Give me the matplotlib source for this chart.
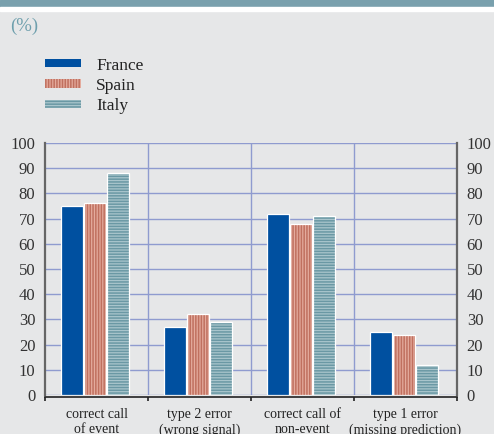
import matplotlib
matplotlib.use("Agg")
import matplotlib.pyplot as plt
from matplotlib.patches import Rectangle, Patch

# data
categories = ["correct call\nof event", "type 2 error\n(wrong signal)",
              "correct call of\nnon-event", "type 1 error\n(missing prediction)"]
countries = ["France", "Spain", "Italy"]
france = [75, 27, 72, 25]
spain = [76, 32, 68, 24]
italy = [88, 29, 71, 12]

plt.rcParams['font.family'] = ['Liberation Serif', 'DejaVu Serif']
plt.rcParams['hatch.linewidth'] = 1.1

bg = '#e6e7e8'
grid_col = '#8f9bcf'
W, H = 494, 434

fig = plt.figure(figsize=(W / 100, H / 100), dpi=100, facecolor=bg)
# header band
fig.patches.append(Rectangle((0, 1 - 7.5 / H), 1, 7.5 / H, transform=fig.transFigure,
                             color='#79a0ad', zorder=0))
fig.patches.append(Rectangle((0, 1 - 10.5 / H), 1, 3 / H, transform=fig.transFigure,
                             color='white', zorder=0))
fig.text(10 / W, 1 - 26 / H, "(%)", color='#6e9fad', fontsize=13.5, va='center', ha='left')

ax = fig.add_axes([45 / W, 1 - 395 / H, (457 - 45) / W, (395 - 143) / H], facecolor=bg)

# style per series: (values, face, hatch, stripe colour)
series = [
    (france, '#0050a0', None, '#0050a0'),
    (spain, '#e4ab9d', '||||||', '#c0705f'),
    (italy, '#a9c5cc', '------', '#6a98a4'),
]
offsets = [-0.235, -0.015, 0.205]
width = 0.215
x = list(range(len(categories)))

handles = []
for (vals, face, hatch, stripe), off, name in zip(series, offsets, countries):
    xs = [i + off for i in x]
    ax.bar(xs, vals, width=width, color=face, hatch=hatch, edgecolor=stripe,
           linewidth=0, zorder=3)
    ax.bar(xs, vals, width=width, fill=False, edgecolor='white', linewidth=0.9, zorder=4)
    handles.append(Patch(facecolor=face, hatch=hatch, edgecolor=stripe, linewidth=0,
                         label=name))

ax.set_xlim(-0.5, 3.5)
ax.set_ylim(0, 100)
ax.set_yticks(range(0, 101, 10))
ax.yaxis.grid(True, color=grid_col, linewidth=1.0, zorder=1)
ax.set_axisbelow(True)
for b in [0.5, 1.5, 2.5]:
    ax.axvline(b, color=grid_col, linewidth=1.0, zorder=1)

ax.set_xticks([-0.5, 0.5, 1.5, 2.5, 3.5])
ax.set_xticklabels([])
ax.set_xticks(x, minor=True)
ax.set_xticklabels(categories, minor=True, fontsize=10.5, linespacing=0.95)
ax.tick_params(axis='x', which='major', direction='out', length=3, width=1.2, color='#222222')
ax.tick_params(axis='x', which='minor', length=0, pad=8, colors='#222222')
ax.tick_params(axis='y', length=0, labelsize=12, pad=7, labelright=True, right=True,
               colors='#333333')

for s in ['left', 'right']:
    ax.spines[s].set_color('#666666')
    ax.spines[s].set_linewidth(1.6)
ax.spines['top'].set_visible(False)
ax.spines['bottom'].set_color('#222222')
ax.spines['bottom'].set_linewidth(1.2)
ax.spines['bottom'].set_position(('outward', 1.5))

leg = fig.legend(handles=handles, loc='upper left', bbox_to_anchor=(45 / W, 1 - 57.5 / H),
                 frameon=False, fontsize=12.5, borderpad=0, borderaxespad=0,
                 handlelength=2.1, handleheight=0.36, handletextpad=0.85,
                 labelspacing=0.25)
for t in leg.get_texts():
    t.set_color('#222222')

fig.savefig("out.png", dpi=100, facecolor=bg)
